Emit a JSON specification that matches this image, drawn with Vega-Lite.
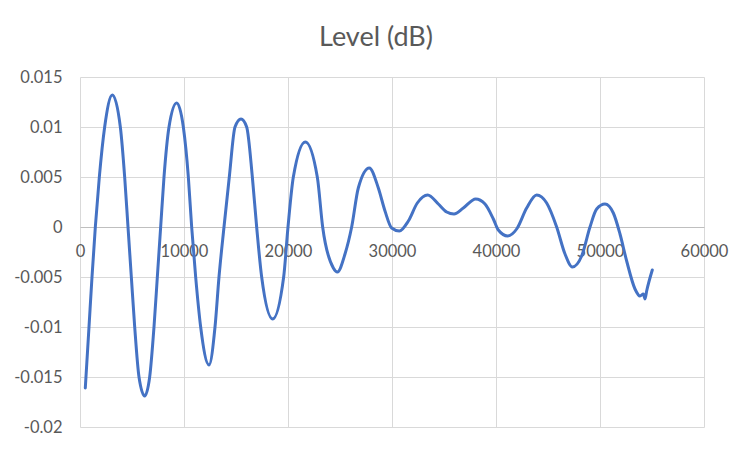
{
  "$schema": "https://vega.github.io/schema/vega-lite/v6.json",
  "width": 624,
  "height": 350,
  "autosize": "none",
  "padding": {"left": 80, "top": 77, "right": 48, "bottom": 25},
  "background": "white",
  "config": {
    "view": {"stroke": null},
    "font": "Lato"
  },
  "title": {
    "text": "Level (dB)",
    "anchor": "middle",
    "frame": "group",
    "dx": -16,
    "offset": 17,
    "fontSize": 27,
    "fontWeight": "normal",
    "font": "Lato",
    "color": "#595959"
  },
  "data": {
    "values": [
      {"f": 510, "level": -0.0161},
      {"f": 865, "level": -0.01},
      {"f": 1154, "level": -0.005},
      {"f": 1474, "level": 0},
      {"f": 1859, "level": 0.005},
      {"f": 2372, "level": 0.01},
      {"f": 3109, "level": 0.0132},
      {"f": 3878, "level": 0.01},
      {"f": 4295, "level": 0.005},
      {"f": 4615, "level": 0},
      {"f": 4936, "level": -0.005},
      {"f": 5260, "level": -0.01},
      {"f": 5673, "level": -0.015},
      {"f": 6218, "level": -0.0169},
      {"f": 6699, "level": -0.015},
      {"f": 7115, "level": -0.01},
      {"f": 7436, "level": -0.005},
      {"f": 7756, "level": 0},
      {"f": 8077, "level": 0.005},
      {"f": 8558, "level": 0.01},
      {"f": 9295, "level": 0.0124},
      {"f": 9936, "level": 0.01},
      {"f": 10417, "level": 0.005},
      {"f": 10737, "level": 0},
      {"f": 11122, "level": -0.005},
      {"f": 11603, "level": -0.01},
      {"f": 12404, "level": -0.0138},
      {"f": 12981, "level": -0.01},
      {"f": 13365, "level": -0.005},
      {"f": 13846, "level": 0},
      {"f": 14356, "level": 0.005},
      {"f": 14904, "level": 0.01},
      {"f": 15481, "level": 0.0108},
      {"f": 16026, "level": 0.01},
      {"f": 16571, "level": 0.005},
      {"f": 16987, "level": 0},
      {"f": 17468, "level": -0.005},
      {"f": 18526, "level": -0.0092},
      {"f": 19583, "level": -0.005},
      {"f": 20000, "level": 0},
      {"f": 20513, "level": 0.005},
      {"f": 21667, "level": 0.0085},
      {"f": 22817, "level": 0.005},
      {"f": 23333, "level": 0},
      {"f": 24359, "level": -0.0041},
      {"f": 24744, "level": -0.0045},
      {"f": 25481, "level": -0.0027},
      {"f": 26122, "level": 0},
      {"f": 26760, "level": 0.0039},
      {"f": 27820, "level": 0.0059},
      {"f": 28686, "level": 0.0039},
      {"f": 29327, "level": 0.0016},
      {"f": 29968, "level": -0.0001},
      {"f": 30705, "level": -0.0004},
      {"f": 31570, "level": 0.0006},
      {"f": 32436, "level": 0.0024},
      {"f": 33433, "level": 0.0032},
      {"f": 34455, "level": 0.0023},
      {"f": 35257, "level": 0.0015},
      {"f": 35962, "level": 0.0013},
      {"f": 36859, "level": 0.0019},
      {"f": 38045, "level": 0.0028},
      {"f": 38942, "level": 0.0023},
      {"f": 39744, "level": 0.0008},
      {"f": 40224, "level": -0.0003},
      {"f": 41122, "level": -0.0009},
      {"f": 41987, "level": -0.0002},
      {"f": 42949, "level": 0.0019},
      {"f": 43910, "level": 0.0032},
      {"f": 44872, "level": 0.0024},
      {"f": 45833, "level": 0},
      {"f": 46635, "level": -0.0027},
      {"f": 47340, "level": -0.004},
      {"f": 48237, "level": -0.0029},
      {"f": 49038, "level": 0},
      {"f": 49679, "level": 0.0018},
      {"f": 50481, "level": 0.0023},
      {"f": 51282, "level": 0.0014},
      {"f": 51923, "level": -0.0007},
      {"f": 52564, "level": -0.0034},
      {"f": 53365, "level": -0.0062},
      {"f": 53846, "level": -0.0069},
      {"f": 54167, "level": -0.0067},
      {"f": 54327, "level": -0.0072},
      {"f": 54487, "level": -0.0064},
      {"f": 55029, "level": -0.0043}
    ]
  },
  "mark": {
    "type": "line",
    "interpolate": "monotone",
    "color": "#4472C4",
    "strokeWidth": 3,
    "strokeCap": "round",
    "strokeJoin": "round"
  },
  "encoding": {
    "x": {
      "field": "f",
      "type": "quantitative",
      "scale": {"domain": [0, 60000], "nice": false, "zero": false},
      "axis": {
        "title": null,
        "values": [0, 10000, 20000, 30000, 40000, 50000, 60000],
        "format": "d",
        "grid": true,
        "gridColor": "#d9d9d9",
        "gridWidth": 1,
        "domain": true,
        "domainColor": "#bfbfbf",
        "domainWidth": 1,
        "ticks": false,
        "tickSize": 0,
        "offset": -200,
        "labelPadding": 16,
        "labelFlush": false,
        "labelOverlap": false,
        "labelFont": "Lato",
        "labelFontSize": 16.5,
        "labelColor": "#595959"
      }
    },
    "y": {
      "field": "level",
      "type": "quantitative",
      "scale": {"domain": [-0.02, 0.015], "nice": false, "zero": false},
      "axis": {
        "title": null,
        "values": [-0.02, -0.015, -0.01, -0.005, 0, 0.005, 0.01, 0.015],
        "labelExpr": "'' + datum.value",
        "grid": true,
        "gridColor": "#d9d9d9",
        "gridWidth": 1,
        "domain": false,
        "ticks": false,
        "tickSize": 0,
        "labelPadding": 18,
        "labelFlush": false,
        "labelOverlap": false,
        "labelFont": "Lato",
        "labelFontSize": 16.5,
        "labelColor": "#595959"
      }
    }
  }
}
